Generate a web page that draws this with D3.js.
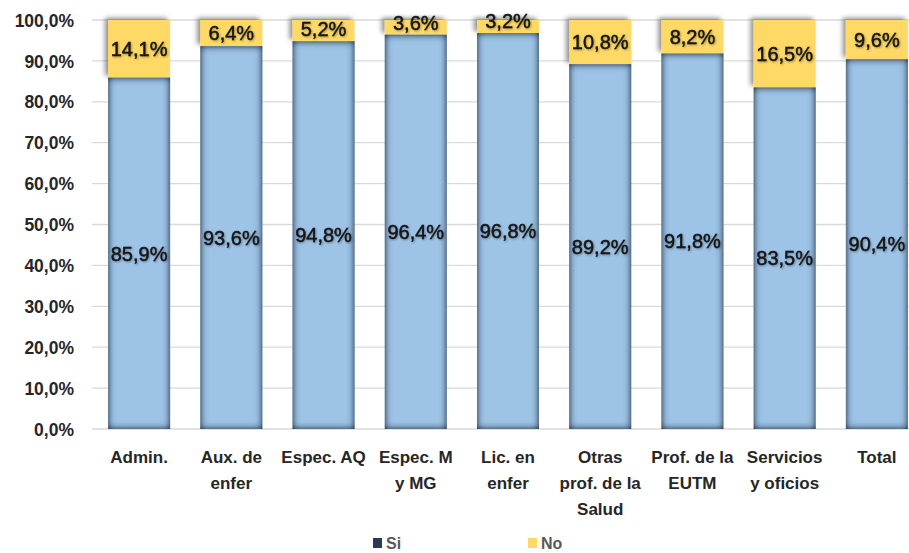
<!DOCTYPE html>
<html>
<head>
<meta charset="utf-8">
<script src="https://cdn.jsdelivr.net/npm/d3@7/dist/d3.min.js"></script>
<style>
  html, body { margin: 0; padding: 0; background: #ffffff; }
  svg { display: block; font-family: "Liberation Sans", Arial, sans-serif; }
</style>
</head>
<body>
<svg id="chart" width="909" height="553"></svg>
<script>
// Categories (multi-line labels split on "\n")
const categories = [
  "Admin.", "Aux. de\nenfer", "Espec. AQ", "Espec. M\ny MG", "Lic. en\nenfer",
  "Otras\nprof. de la\nSalud", "Prof. de la\nEUTM", "Servicios\ny oficios", "Total"
];
// Share answering "Si" and "No" (%)
const siValues = [85.9, 93.6, 94.8, 96.4, 96.8, 89.2, 91.8, 83.5, 90.4];
const noValues = [14.1, 6.4, 5.2, 3.6, 3.2, 10.8, 8.2, 16.5, 9.6];
// Y axis ticks
const yTicks = [0, 10, 20, 30, 40, 50, 60, 70, 80, 90, 100];
const seriesNames = ["Si", "No"];

const svg = d3.select("#chart");
const W = 909, H = 553;
const plot = { left: 93, right: 923, top: 20, bottom: 429 };

const x = d3.scaleBand()
  .domain(categories)
  .range([plot.left, plot.right])
  .paddingInner(0.328)
  .paddingOuter(0.164);

const y = d3.scaleLinear().domain([0, 100]).range([plot.bottom, plot.top]);

const fmt = v => v.toFixed(1).replace(".", ",") + "%";

// Effects: inner shadow for the blue bars, soft outer shadow for the yellow caps
const defs = svg.append("defs");
const inset = defs.append("filter").attr("id", "inset")
  .attr("x", "-20%").attr("y", "-5%").attr("width", "140%").attr("height", "110%");
inset.append("feFlood").attr("flood-color", "#1c2f47").attr("flood-opacity", 1).attr("result", "flood");
inset.append("feComposite").attr("in", "flood").attr("in2", "SourceAlpha").attr("operator", "out").attr("result", "outside");
inset.append("feGaussianBlur").attr("in", "outside").attr("stdDeviation", 3.6).attr("result", "blur");
inset.append("feComposite").attr("in", "blur").attr("in2", "SourceAlpha").attr("operator", "in").attr("result", "shadow");
const im = inset.append("feMerge");
im.append("feMergeNode").attr("in", "SourceGraphic");
im.append("feMergeNode").attr("in", "shadow");
im.append("feMergeNode").attr("in", "shadow");

const drop = defs.append("filter").attr("id", "capShadow")
  .attr("x", "-30%").attr("y", "-40%").attr("width", "160%").attr("height", "180%");
drop.append("feDropShadow").attr("dx", -3).attr("dy", -2).attr("stdDeviation", 2.5)
  .attr("flood-color", "#000").attr("flood-opacity", 0.45);

const textShadow = defs.append("filter").attr("id", "textShadow")
  .attr("x", "-10%").attr("y", "-20%").attr("width", "130%").attr("height", "150%");
textShadow.append("feDropShadow").attr("dx", 1).attr("dy", 1).attr("stdDeviation", 0.8)
  .attr("flood-color", "#000").attr("flood-opacity", 0.35);

svg.append("rect").attr("width", W).attr("height", H).attr("fill", "#ffffff");

// Gridlines
svg.append("g").selectAll("line").data(yTicks).join("line")
  .attr("x1", plot.left - 1).attr("x2", W)
  .attr("y1", d => y(d)).attr("y2", d => y(d))
  .attr("stroke", "#d9d9d9").attr("stroke-width", 1.3);

// Y axis labels
const yAxis = d3.axisLeft(y).tickValues(yTicks).tickFormat(fmt).tickSize(0).tickPadding(0);
const yg = svg.append("g").attr("transform", "translate(74,0)").call(yAxis);
yg.select(".domain").remove();
yg.selectAll("text")
  .attr("font-family", "Liberation Sans, Arial, sans-serif")
  .attr("font-size", 17.5).attr("fill", "#262626").attr("font-weight", "bold")
  .attr("dy", "0.35em");

const data = categories.map((c, i) => ({ c, si: siValues[i], no: noValues[i] }));

// "No" caps (drawn first so the blue bars cover their shadow)
svg.append("g").selectAll("rect").data(data).join("rect")
  .attr("x", d => x(d.c))
  .attr("width", x.bandwidth())
  .attr("y", d => y(d.si + d.no))
  .attr("height", d => y(d.si) - y(d.si + d.no))
  .attr("fill", "#ffd966")
  .attr("filter", "url(#capShadow)");

// "Si" bars
svg.append("g").selectAll("rect").data(data).join("rect")
  .attr("x", d => x(d.c))
  .attr("width", x.bandwidth())
  .attr("y", d => y(d.si))
  .attr("height", d => y(0) - y(d.si))
  .attr("fill", "#9dc3e6")
  .attr("filter", "url(#inset)");

// Value labels
const labels = svg.append("g")
  .attr("font-family", "Liberation Sans, Arial, sans-serif")
  .attr("font-size", 20).attr("fill", "#141414")
  .attr("stroke", "#141414").attr("stroke-width", 0.45)
  .attr("text-anchor", "middle").attr("filter", "url(#textShadow)");

labels.selectAll("text.si").data(data).join("text").attr("class", "si")
  .attr("x", d => x(d.c) + x.bandwidth() / 2)
  .attr("y", d => (y(0) + y(d.si)) / 2)
  .attr("dy", "0.36em")
  .text(d => fmt(d.si));

labels.selectAll("text.no").data(data).join("text").attr("class", "no")
  .attr("x", d => x(d.c) + x.bandwidth() / 2)
  .attr("y", d => Math.min((y(d.si) + y(d.si + d.no)) / 2, y(d.si) - 12))
  .attr("dy", "0.36em")
  .text(d => fmt(d.no));

// Category labels
const xg = svg.append("g")
  .attr("font-family", "Liberation Sans, Arial, sans-serif")
  .attr("font-size", 17).attr("font-weight", "bold").attr("fill", "#262626")
  .attr("text-anchor", "middle");
xg.selectAll("text").data(categories).join("text")
  .attr("x", d => x(d) + x.bandwidth() / 2)
  .attr("y", 463)
  .each(function (d) {
    const t = d3.select(this);
    d.split("\n").forEach((line, k) => {
      t.append("tspan").attr("x", x(d) + x.bandwidth() / 2).attr("dy", k === 0 ? 0 : 26).text(line);
    });
  });

// Legend
const legendColors = ["#2b3a4e", "#ffd966"];
const legendX = [373, 528];
const lg = svg.append("g");
seriesNames.forEach((name, i) => {
  lg.append("rect").attr("x", legendX[i]).attr("y", 538).attr("width", 9).attr("height", 10)
    .attr("fill", legendColors[i]);
  lg.append("text").attr("x", legendX[i] + 13).attr("y", 549)
    .attr("font-family", "Liberation Sans, Arial, sans-serif")
    .attr("font-size", 16).attr("font-weight", "bold").attr("fill", "#595959")
    .text(name);
});
</script>
</body>
</html>
